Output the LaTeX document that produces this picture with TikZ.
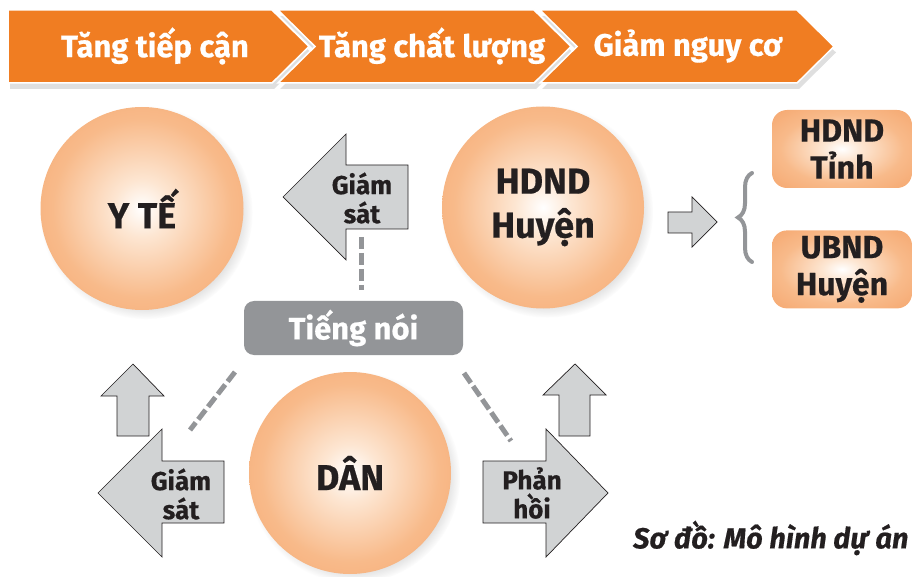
\documentclass[tikz,border=0pt]{standalone}
\usepackage{fontspec}
\setmainfont{Fira Sans}[BoldFeatures={FakeBold=0.5}, BoldItalicFeatures={FakeBold=0.5}]
\usetikzlibrary{calc,positioning,shadows,decorations.pathreplacing}
\definecolor{bannerOrange}{RGB}{240,125,34}
\definecolor{ballIn}{RGB}{255,255,255}
\definecolor{ballLight}{RGB}{253,230,210}
\definecolor{ballMid}{RGB}{248,186,138}
\definecolor{ballOut}{RGB}{242,148,84}
\definecolor{voiceGray}{RGB}{147,149,152}
\definecolor{arrowGray}{RGB}{209,211,212}
\definecolor{inkBlack}{RGB}{35,31,32}
\pgfdeclareradialshading{orangeball}{\pgfpoint{0bp}{0bp}}%
  {color(0bp)=(ballIn); color(7bp)=(ballLight); color(22bp)=(ballMid); color(50bp)=(ballOut)}
\tikzstyle{ball} = [circle, shading=orangeball, text=inkBlack, align=center,
    font=\fontsize{36}{44}\selectfont\bfseries,
    circular drop shadow={opacity=0.3, shadow xshift=4pt, shadow yshift=-4pt, shadow scale=1.05}]
\tikzstyle{grayArrow} = [draw=inkBlack, fill=arrowGray, line width=0.7pt, line join=miter]
\tikzset{
  chevron/.style={
    fill=bannerOrange,
    draw=white, line width=1.5pt, line join=miter,
    drop shadow={opacity=0.25, shadow xshift=2pt, shadow yshift=-6pt}},
  chevronText/.style={
    text=white,
    font=\fontsize{31}{36}\selectfont\bfseries},
  voice/.style={
    rectangle,
    rounded corners=10pt,
    fill=voiceGray,
    minimum width=219pt, minimum height=54pt,
    text=white,
    font=\fontsize{31}{36}\selectfont\bfseries},
  tagbox/.style={
    rectangle,
    rounded corners=15pt,
    shading=orangeball,
    minimum width=140pt, minimum height=78pt,
    text=inkBlack, align=center,
    font=\fontsize{32}{37}\selectfont\bfseries},
  arrowText/.style={text=inkBlack, align=center,
    font=\fontsize{26}{29}\selectfont\bfseries},
  dashLine/.style={draw=voiceGray, line width=5pt, dash pattern=on 12pt off 4pt},
  braceLine/.style={draw=voiceGray, line width=4pt, line cap=round,
    decorate, decoration={brace, amplitude=14pt}},
}

\begin{document}
\begin{tikzpicture}[x=1pt, y=-1pt]
    \useasboundingbox (0,0) rectangle (918,577);
    % Banner
    \draw [chevron] (8,10) -- (272,10) -- (309,46.5) -- (272,83) -- (8,83) -- cycle;
    \draw [chevron] (278,10) -- (534,10) -- (571,46.5) -- (534,83) -- (278,83) -- (315,46.5) -- cycle;
    \draw [chevron] (540,10) -- (797,10) -- (834,46.5) -- (797,83) -- (540,83) -- (577,46.5) -- cycle;
    \node [chevronText] (tangTiepCan) at (155,46) {Tăng tiếp cận};
    \node [chevronText] (tangChatLuong) at (432,46) {Tăng chất lượng};
    \node [chevronText] (giamNguyCo) at (688,46) {Giảm nguy cơ};
    % Place nodes
    \node [ball, minimum size=203pt] (yTe) at (142,208.5) {Y TẾ};
    \node [ball, minimum size=202pt] (hdndHuyen) at (543,207.5) {HDND\\Huyện};
    \node [ball, minimum size=202pt] (dan) at (350,473) {DÂN};
    \node [voice] (tiengNoi) at (353.5,328) {Tiếng nói};
    \node [tagbox] (hdndTinh) at (842,149) {HDND\\Tỉnh};
    \node [tagbox, below=42pt of hdndTinh] (ubndHuyen) {UBND\\Huyện};
    % Draw arrows
    \draw [grayArrow] (283,197) -- (346,134) -- (346,165) -- (408,165) -- (408,229)
        -- (346,229) -- (346,260) -- cycle;
    \node [arrowText] (giamSatTop) at (362,198) {Giám\\sát};
    \draw [grayArrow] (98,493) -- (162,429) -- (162,461) -- (224,461) -- (224,523)
        -- (162,523) -- (162,557) -- cycle;
    \node [arrowText] (giamSatBottom) at (181,494) {Giám\\sát};
    \draw [grayArrow] (483,461) -- (546,461) -- (546,429) -- (608,493) -- (546,557)
        -- (546,523) -- (483,523) -- cycle;
    \node [arrowText] (phanHoi) at (532,493) {Phản\\hồi};
    \draw [grayArrow] (117,436) -- (117,396) -- (101,396) -- (133,364) -- (164,396)
        -- (149,396) -- (149,436) -- cycle;
    \draw [grayArrow] (559,436) -- (559,395) -- (543,395) -- (575,364) -- (606,395)
        -- (590,395) -- (590,436) -- cycle;
    \draw [grayArrow] (668,212) -- (692,212) -- (692,197) -- (717,222) -- (692,247)
        -- (692,233) -- (668,233) -- cycle;
    % Draw edges
    \coordinate (dashTop) at (361,237);
    \coordinate (dashLeftA) at (235,372);
    \coordinate (dashLeftB) at (190,430);
    \coordinate (dashRightA) at (464,373);
    \coordinate (dashRightB) at (511,441);
    \path [dashLine, shorten >=11pt] (dashTop) -- (dashTop |- tiengNoi.north);
    \path [dashLine] (dashLeftA) -- (dashLeftB);
    \path [dashLine] (dashRightA) -- (dashRightB);
    \coordinate (braceBottom) at (752,262);
    \coordinate (braceTop) at (752,173);
    \path [braceLine] (braceBottom) -- (braceTop);
    % Caption
    \node [anchor=east, text=inkBlack, font=\fontsize{29}{34}\selectfont\bfseries\itshape]
        (caption) at (912,538) {Sơ đồ: Mô hình dự án};
\end{tikzpicture}
\end{document}
